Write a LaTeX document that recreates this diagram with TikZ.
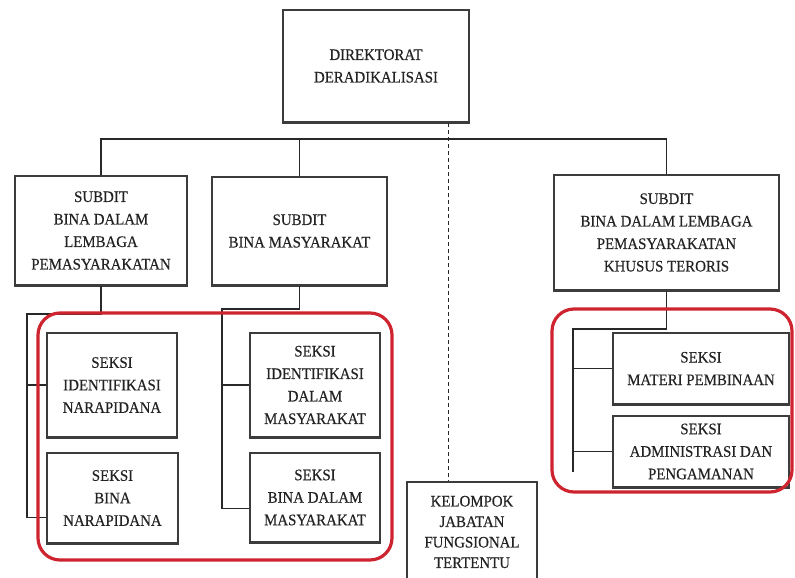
\documentclass[tikz,border=0pt]{standalone}
\usepackage{fontspec}
\setmainfont{Liberation Serif}[FakeStretch=0.93,FakeBold=0.4]
\definecolor{boxline}{RGB}{60,60,60}
\definecolor{linkline}{RGB}{40,40,40}
\definecolor{textgray}{RGB}{35,35,35}
\definecolor{hilite}{RGB}{206,36,48}
\begin{document}
\begin{tikzpicture}[x=1pt,y=-1pt,
  unit/.style={draw=boxline, line width=1.3pt, align=center, inner sep=0pt,
    text=textgray, font=\fontsize{16}{22.5}\selectfont},
  link/.style={draw=linkline, line width=1.6pt},
  guide/.style={draw=linkline, line width=1pt, dash pattern=on 4pt off 3pt},
  groupframe/.style={draw=hilite, line width=3.2pt, rounded corners=22pt}]
\useasboundingbox (0,0) rectangle (795,578);
\clip (0,0) rectangle (795,578);

% units
\node[unit, minimum width=186pt, minimum height=112pt] (dir) at (376,66)
  {DIREKTORAT\\DERADIKALISASI};
\node[unit, minimum width=172pt, minimum height=109pt] (sub1) at (101,230.5)
  {SUBDIT\\BINA DALAM\\LEMBAGA\\PEMASYARAKATAN};
\node[unit, minimum width=175pt, minimum height=108pt] (sub2) at (299.5,231)
  {SUBDIT\\BINA MASYARAKAT};
\node[unit, minimum width=225pt, minimum height=115pt] (sub3) at (666.5,232.5)
  {SUBDIT\\BINA DALAM LEMBAGA\\PEMASYARAKATAN\\KHUSUS TERORIS};
\node[unit, minimum width=130pt, minimum height=104pt] (sk1) at (112,385)
  {SEKSI\\IDENTIFIKASI\\NARAPIDANA};
\node[unit, minimum width=131pt, minimum height=90pt] (sk2) at (112.5,498)
  {SEKSI\\BINA\\NARAPIDANA};
\node[unit, minimum width=130pt, minimum height=104pt] (sk3) at (315,385)
  {SEKSI\\IDENTIFIKASI\\DALAM\\MASYARAKAT};
\node[unit, minimum width=130pt, minimum height=89pt] (sk4) at (315,497.5)
  {SEKSI\\BINA DALAM\\MASYARAKAT};
\node[unit, minimum width=176pt, minimum height=71pt] (sk5) at (701,368.5)
  {SEKSI\\MATERI PEMBINAAN};
\node[unit, minimum width=176pt, minimum height=71pt] (sk6) at (701,451.5)
  {SEKSI\\ADMINISTRASI DAN\\PENGAMANAN};
\node[unit, minimum width=130pt, minimum height=100pt,
  font=\fontsize{16}{20.5}\selectfont] (kel) at (472,532)
  {KELOMPOK\\JABATAN\\FUNGSIONAL\\TERTENTU};

% heavier lower edges of the boxes
\foreach \n in {dir,sub1,sub2,sub3,sk1,sk2,sk3,sk4,sk5,sk6}
  \draw[boxline, line width=2.8pt] (\n.south west) -- (\n.south east);

% main bus
\coordinate (bus) at (376,139);
\draw[link] (sub1.north) |- (bus) -| (sub3.north);
\draw[link] (sub2.north) -- (sub2.north |- bus);

% functional group (dashed)
\coordinate (dtop) at (448,123);
\draw[guide] (dtop) -- (dtop |- kel.north);

% sections under the first subdirectorate
\coordinate (s1) at (27,314);
\draw[link] (sub1.south) |- (s1) |- ([yshift=26pt]sk2.south west);
\draw[link] (s1 |- sk1.west) -- (sk1.west);

% sections under the second subdirectorate
\coordinate (s2) at (222,309);
\draw[link] (sub2.south) |- (s2) |- ([yshift=34pt]sk4.south west);
\draw[link] (s2 |- sk3.west) -- (sk3.west);

% sections under the third subdirectorate
\coordinate (s3) at (573,329);
\coordinate (s3end) at (573,472);
\draw[link] (sub3.south) |- (s3) -- (s3end);
\draw[link] (s3 |- sk5.west) -- (sk5.west);
\draw[link] (s3 |- sk6.west) -- (sk6.west);

% highlighted groups
\draw[groupframe] (38,313) rectangle (392,560);
\draw[groupframe] (552,309) rectangle (792,492);
\end{tikzpicture}
\end{document}
